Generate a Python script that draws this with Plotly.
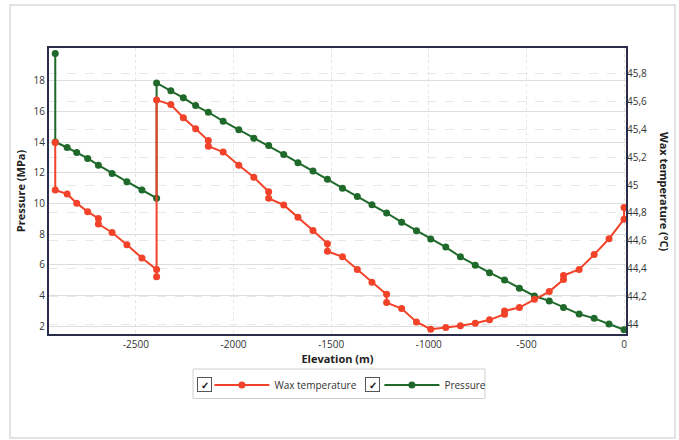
import plotly.graph_objects as go

# Pressure (MPa), left axis
p_elev = [-2913, -2913, -2852, -2803, -2747, -2692, -2622, -2546, -2469, -2394,
          -2394, -2321, -2257, -2194, -2129, -2053, -1973, -1896, -1820, -1743,
          -1670, -1593, -1519, -1442, -1366, -1291, -1216, -1139, -1063, -990,
          -913, -838, -762, -689, -612, -536, -459, -383, -310, -230, -153, -77, 0]
pressure = [19.77, 14.0, 13.64, 13.31, 12.93, 12.49, 11.95, 11.41, 10.87, 10.34,
            17.85, 17.35, 16.88, 16.38, 15.94, 15.36, 14.80, 14.25, 13.77, 13.19,
            12.65, 12.11, 11.57, 10.99, 10.45, 9.91, 9.37, 8.77, 8.22, 7.68,
            7.15, 6.51, 5.97, 5.48, 5.00, 4.46, 3.96, 3.64, 3.21, 2.78, 2.50, 2.13, 1.76]

# Wax temperature (°C), right axis
t_elev = [-2913, -2913, -2852, -2803, -2747, -2692, -2692, -2622, -2546, -2469, -2394, -2394,
          -2394, -2321, -2257, -2194, -2129, -2129, -2053, -1973, -1896, -1820, -1820,
          -1743, -1670, -1593, -1519, -1519, -1442, -1366, -1291, -1216, -1216,
          -1139, -1063, -990, -913, -838, -762, -689, -612, -612, -536, -459, -383,
          -310, -310, -230, -153, -77, 0, 0]
wax_temp = [45.307, 44.964, 44.936, 44.869, 44.809, 44.76, 44.72, 44.659, 44.571, 44.476, 44.393, 44.341,
            45.612, 45.579, 45.484, 45.405, 45.32, 45.28, 45.238, 45.143, 45.057, 44.952, 44.905,
            44.857, 44.769, 44.674, 44.579, 44.524, 44.484, 44.393, 44.302, 44.214, 44.155,
            44.112, 44.016, 43.964, 43.976, 43.988, 44.007, 44.031, 44.071, 44.095, 44.119, 44.179, 44.234,
            44.321, 44.35, 44.393, 44.5, 44.614, 44.755, 44.838]

x_ticks = [-2500, -2000, -1500, -1000, -500, 0]
y1_ticks = [2, 4, 6, 8, 10, 12, 14, 16, 18]
y2_ticks = [44.0, 44.2, 44.4, 44.6, 44.8, 45.0, 45.2, 45.4, 45.6, 45.8]

RED = "#f2432a"
GREEN = "#1f6a2a"
FONT = "Open Sans"

def fmt_comma(v):
    s = ("%.1f" % v).rstrip("0").rstrip(".")
    return s.replace(".", ",")

fig = go.Figure()
fig.add_trace(go.Scatter(x=t_elev, y=wax_temp, name="Wax temperature", yaxis="y2",
                         mode="lines+markers", line=dict(color=RED, width=2),
                         marker=dict(color=RED, size=7)))
fig.add_trace(go.Scatter(x=p_elev, y=pressure, name="Pressure", yaxis="y",
                         mode="lines+markers", line=dict(color=GREEN, width=2),
                         marker=dict(color=GREEN, size=7)))

fig.update_layout(
    width=679, height=440,
    margin=dict(l=49, r=53, t=48, b=106),
    paper_bgcolor="white", plot_bgcolor="white",
    font=dict(family=FONT, size=10, color="#333333"),
    xaxis=dict(range=[-2945, 10], tickvals=x_ticks, ticktext=[str(v) for v in x_ticks],
               showgrid=True, gridcolor="#e4e4e4", griddash="dot", gridwidth=1,
               zeroline=False, ticks="", mirror=True, showline=True,
               linecolor="#2b2b4b", linewidth=2,
               title=dict(text="<b>Elevation (m)</b>", font=dict(size=11, color="#222"), standoff=4)),
    yaxis=dict(range=[1.48, 20.13], tickvals=y1_ticks, ticktext=[str(v) for v in y1_ticks],
               showgrid=True, gridcolor="#dddddd", gridwidth=1, zeroline=False, ticks="",
               showline=True, linecolor="#2b2b4b", linewidth=2, mirror=True,
               title=dict(text="<b>Pressure (MPa)</b>", font=dict(size=11, color="#222"), standoff=6)),
    yaxis2=dict(range=[43.929, 45.986], overlaying="y", side="right",
                tickvals=y2_ticks, ticktext=[fmt_comma(v) for v in y2_ticks],
                showgrid=True, gridcolor="#e8e8e8", griddash="dash", gridwidth=1,
                zeroline=False, ticks="", showline=False),
    showlegend=True,
    legend=dict(orientation="h", x=0.278, xanchor="left", y=-0.178, yanchor="middle",
                bgcolor="rgba(0,0,0,0)", borderwidth=0, itemwidth=55,
                entrywidth=100, entrywidthmode="pixels",
                font=dict(size=10, color="#333"), traceorder="normal"),
)

# right axis title (reads top-to-bottom)
fig.add_annotation(text="<b>Wax temperature (°C)</b>", xref="paper", yref="paper",
                   x=1.0, xshift=39, xanchor="center", y=0.5, yanchor="middle",
                   textangle=90, showarrow=False, font=dict(size=11, color="#222"))

# legend frame and check boxes
fig.add_shape(type="rect", xref="paper", yref="paper", x0=0.2496, x1=0.7556,
              y0=-0.1224, y1=-0.2255, line=dict(color="#cfcfcf", width=1), fillcolor="rgba(0,0,0,0)")
for cx in [0.270, 0.560]:
    fig.add_annotation(text="<b>✓</b>", xref="paper", yref="paper", x=cx, y=-0.178,
                       xanchor="center", yanchor="middle",
                       showarrow=False, width=11, height=11, bordercolor="#555", borderwidth=1,
                       bgcolor="white", font=dict(size=10, color="#111"))

# outer frame
fig.add_shape(type="rect", xref="paper", yref="paper",
              x0=(10 - 49) / 577, x1=(675 - 49) / 577,
              y0=-(438 - 334) / 286, y1=(334 - 5) / 286,
              line=dict(color="#d9d9d9", width=1.5))

fig.write_html("out.html")
